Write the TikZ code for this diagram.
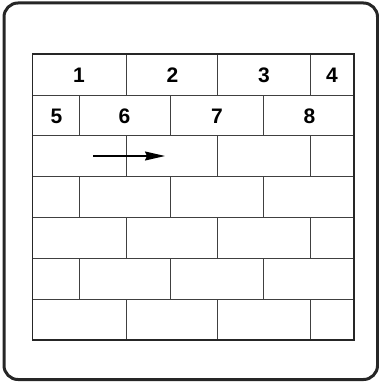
\documentclass[tikz,border=0pt]{standalone}
\usepackage{fontspec}
\setmainfont{Liberation Sans}
\usetikzlibrary{arrows.meta}

\begin{document}
\begin{tikzpicture}[x=1pt, y=-1pt,
    frame/.style={draw=black!85, line width=3pt, rounded corners=14pt},
    wall/.style={draw=black!85, line width=1.6pt},
    joint/.style={draw=black!75, line width=0.9pt},
    num/.style={font=\bfseries\fontsize{21}{21}\selectfont, inner sep=0pt}
]
    \useasboundingbox (0,0) rectangle (379,382);
    \draw[frame] (4,3) rectangle (377.5,379.5);

    % bed joints
    \foreach \i in {1,...,6}
        \draw[joint] (32.5,54.3+40.8*\i) -- (354,54.3+40.8*\i);
    % head joints, courses alternate
    \foreach \i in {0,2,4,6}
        \foreach \x in {126,217.3,310.3}
            \draw[joint] (\x,54.3+40.8*\i) -- (\x,95.1+40.8*\i);
    \foreach \i in {1,3,5}
        \foreach \x in {79,170.3,263.3}
            \draw[joint] (\x,54.3+40.8*\i) -- (\x,95.1+40.8*\i);
    \draw[wall] (32.5,54.3) rectangle (354,340);

    \node[num] (n1) at (79,75) {1};
    \node[num] (n2) at (172.5,75) {2};
    \node[num] (n3) at (264,75) {3};
    \node[num] (n4) at (332,75) {4};
    \node[num] (n5) at (56.5,116) {5};
    \node[num] (n6) at (124.5,116) {6};
    \node[num] (n7) at (217,116) {7};
    \node[num] (n8) at (309.5,116) {8};

    \coordinate (arrS) at (93,156);
    \coordinate (arrE) at (165,156);
    \draw[-{Stealth[length=20pt, width=9pt, inset=2pt]}, line width=1.4pt] (arrS) -- (arrE);  % direction
\end{tikzpicture}
\end{document}
